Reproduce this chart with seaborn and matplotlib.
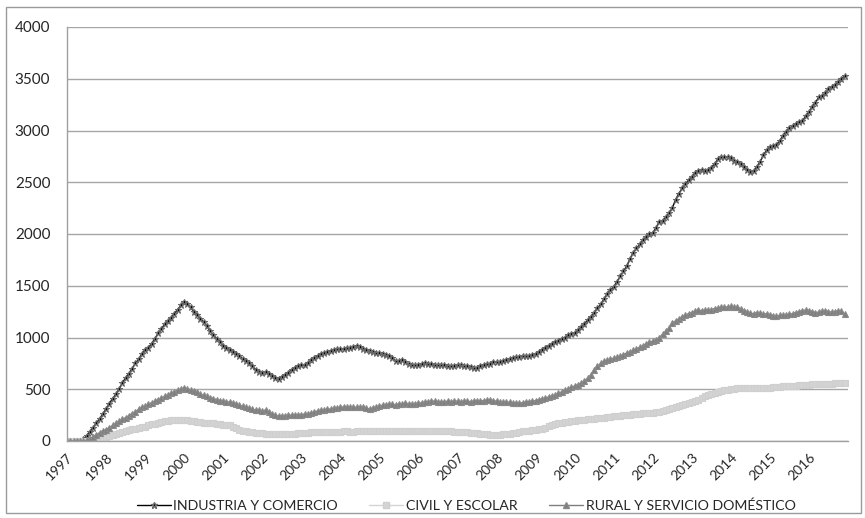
import numpy as np
import pandas as pd
import matplotlib
matplotlib.use("Agg")
import matplotlib.pyplot as plt
import seaborn as sns
from matplotlib.patches import Rectangle
from matplotlib.lines import Line2D

years = list(range(1997, 2017))
series_names = ["INDUSTRIA Y COMERCIO", "CIVIL Y ESCOLAR", "RURAL Y SERVICIO DOMÉSTICO"]

industria = [
    0, 0, 0, 0, 0, 15, 50, 90, 130, 170, 215, 260,
    310, 360, 410, 450, 500, 560, 610, 650, 700, 750, 790, 840,
    880, 900, 940, 990, 1040, 1080, 1130, 1160, 1190, 1230, 1270, 1310,
    1340, 1320, 1290, 1250, 1220, 1180, 1150, 1110, 1060, 1020, 990, 960,
    920, 900, 880, 860, 840, 820, 790, 770, 750, 720, 690, 670,
    660, 670, 650, 630, 610, 600, 620, 640, 660, 690, 710, 720,
    730, 730, 750, 780, 800, 820, 840, 850, 860, 870, 880, 885,
    890, 890, 900, 900, 910, 915, 905, 890, 880, 870, 860, 855,
    850, 840, 830, 820, 800, 770, 770, 780, 760, 740, 730, 730,
    730, 740, 750, 740, 740, 730, 730, 735, 730, 720, 720, 725,
    730, 730, 725, 720, 715, 705, 710, 720, 730, 740, 745, 760,
    765, 760, 770, 780, 790, 800, 810, 815, 820, 820, 825, 830,
    840, 860, 880, 900, 920, 940, 960, 970, 990, 1000, 1020, 1035,
    1045, 1070, 1100, 1130, 1170, 1200, 1240, 1285, 1320, 1370, 1420, 1460,
    1490, 1540, 1590, 1640, 1690, 1760, 1820, 1860, 1900, 1940, 1970, 2000,
    2010, 2060, 2120, 2130, 2160, 2200, 2250, 2330, 2390, 2440, 2480, 2520,
    2550, 2590, 2610, 2620, 2610, 2620, 2640, 2680, 2720, 2740, 2745, 2740,
    2730, 2710, 2700, 2680, 2650, 2620, 2600, 2610, 2650, 2700, 2760, 2810,
    2840, 2850, 2860, 2900, 2950, 2990, 3020, 3040, 3060, 3080, 3090, 3140,
    3180, 3230, 3270, 3320, 3330, 3360, 3400, 3420, 3440, 3470, 3500, 3530,
]

civil = [
    0, 0, 0, 0, 0, 0, 0, 0, 0, 5, 15, 25,
    35, 45, 55, 65, 75, 85, 95, 105, 115, 120, 130, 135,
    140, 150, 160, 165, 175, 185, 190, 195, 200, 200, 205, 205,
    205, 200, 195, 190, 185, 180, 175, 175, 170, 170, 165, 160,
    155, 155, 150, 140, 125, 110, 100, 95, 90, 85, 80, 78,
    75, 72, 70, 68, 68, 66, 66, 68, 70, 70, 72, 75,
    78, 80, 82, 85, 86, 88, 88, 88, 86, 86, 88, 90,
    90, 92, 92, 90, 90, 92, 95, 95, 95, 95, 96, 96,
    98, 98, 98, 98, 100, 100, 100, 100, 100, 100, 98, 98,
    98, 98, 100, 100, 100, 100, 98, 96, 94, 92, 92, 90,
    90, 88, 86, 84, 82, 80, 76, 72, 68, 64, 62, 60,
    60, 62, 66, 70, 72, 76, 80, 86, 92, 96, 100, 105,
    110, 115, 120, 130, 145, 155, 165, 170, 175, 180, 185, 190,
    195, 200, 205, 205, 210, 210, 215, 220, 225, 225, 230, 235,
    240, 245, 245, 250, 255, 255, 260, 260, 265, 270, 270, 275,
    275, 280, 285, 290, 300, 305, 315, 325, 335, 345, 355, 365,
    375, 385, 400, 415, 430, 445, 455, 465, 475, 485, 490, 495,
    500, 505, 510, 510, 510, 510, 510, 515, 515, 510, 510, 512,
    515, 520, 520, 525, 530, 530, 530, 530, 535, 540, 540, 545,
    545, 548, 550, 550, 550, 552, 555, 555, 558, 560, 562, 565,
]

rural = [
    0, 0, 0, 0, 0, 0, 5, 20, 40, 60, 80, 100,
    110, 130, 150, 170, 190, 210, 225, 245, 265, 285, 305, 325,
    340, 355, 370, 385, 400, 415, 430, 445, 460, 475, 490, 500,
    510, 505, 495, 485, 470, 450, 440, 430, 420, 410, 400, 390,
    385, 380, 375, 370, 360, 345, 335, 325, 315, 305, 300, 295,
    290, 300, 280, 265, 250, 240, 240, 245, 250, 250, 250, 255,
    255, 260, 265, 270, 280, 290, 295, 300, 305, 310, 315, 320,
    325, 330, 330, 330, 325, 325, 330, 325, 320, 305, 320, 330,
    340, 345, 350, 355, 355, 350, 355, 360, 365, 360, 355, 360,
    365, 370, 375, 380, 385, 385, 380, 380, 380, 385, 380, 385,
    385, 380, 385, 385, 380, 385, 385, 390, 390, 395, 395, 390,
    385, 380, 380, 375, 375, 370, 370, 365, 370, 375, 380, 385,
    390, 400, 405, 415, 425, 435, 445, 460, 475, 490, 505, 520,
    530, 545, 560, 580, 610, 640, 690, 720, 750, 770, 780, 790,
    800, 810, 820, 835, 850, 860, 875, 890, 905, 920, 940, 955,
    965, 980, 1000, 1030, 1060, 1090, 1140, 1160, 1180, 1200, 1215, 1230,
    1240, 1255, 1265, 1260, 1265, 1270, 1270, 1280, 1285, 1290, 1295, 1295,
    1300, 1295, 1290, 1280, 1260, 1245, 1235, 1230, 1240, 1235, 1225, 1230,
    1220, 1210, 1205, 1215, 1220, 1215, 1225, 1230, 1240, 1250, 1260, 1265,
    1260, 1250, 1240, 1245, 1255, 1260, 1250, 1245, 1250, 1260, 1255, 1225,
]

t = [y + m / 12 for y in years for m in range(12)]
df = pd.concat([
    pd.DataFrame({"t": t, "v": industria, "s": series_names[0]}),
    pd.DataFrame({"t": t, "v": civil, "s": series_names[1]}),
    pd.DataFrame({"t": t, "v": rural, "s": series_names[2]}),
])

sns.set_theme(style="white")
plt.rcParams["font.family"] = ["Lato", "DejaVu Sans"]

fig = plt.figure(figsize=(8.65, 5.18), dpi=100)
ax = fig.add_axes([67 / 865, 1 - 441 / 518, (848 - 67) / 865, (441 - 27) / 518])

palette = {series_names[0]: "#000000", series_names[1]: "#d4d4d4", series_names[2]: "#7f7f7f"}
markers = {series_names[0]: "*", series_names[1]: "s", series_names[2]: "^"}
edges = ["#6a6a6a", "#cfcfcf", "#8a8a8a"]
sns.lineplot(data=df, x="t", y="v", hue="s", style="s", palette=palette,
             markers=markers, dashes=False, linewidth=1.0, markersize=4.5,
             markeredgewidth=0.8, ax=ax, legend=False)
for line, ec in zip(ax.lines, edges):
    line.set_markeredgecolor(ec)

ax.set_xlim(1997, 2017)
ax.set_ylim(0, 4000)
ax.set_yticks(range(0, 4001, 500))
ax.set_yticklabels([str(v) for v in range(0, 4001, 500)], fontsize=11)
ax.set_xticks(list(range(1997, 2018)))
ax.set_xticklabels([str(y) for y in years] + [""], rotation=45, ha="right",
                   rotation_mode="anchor", fontsize=10)
ax.set_xlabel("")
ax.set_ylabel("")
ax.grid(axis="y", color="#a6a6a6", linewidth=1.0)
ax.set_axisbelow(True)
for side in ["top", "right"]:
    ax.spines[side].set_visible(False)
for side in ["left", "bottom"]:
    ax.spines[side].set_color("#a0a0a0")
    ax.spines[side].set_linewidth(1.0)
ax.tick_params(axis="x", direction="out", length=5, color="#a0a0a0", width=1, pad=2)
ax.tick_params(axis="y", direction="out", length=6, color="#a6a6a6", width=1, pad=6)

handles = [Line2D([], [], color=palette[n], marker=markers[n], markersize=4.5,
                  markeredgecolor=ec, linewidth=1.0)
           for n, ec in zip(series_names, edges)]
fig.legend(handles, series_names, loc="center", bbox_to_anchor=(466 / 865, 1 - 506 / 518),
           ncol=3, frameon=False, fontsize=10.2, handlelength=2.4, columnspacing=2.2,
           handletextpad=0.2)

fig.patches.append(Rectangle((6 / 865, 5 / 518), 855 / 865, 506 / 518,
                             transform=fig.transFigure, fill=False,
                             edgecolor="#9a9a9a", linewidth=1.0))

fig.savefig("out.png", dpi=100)
